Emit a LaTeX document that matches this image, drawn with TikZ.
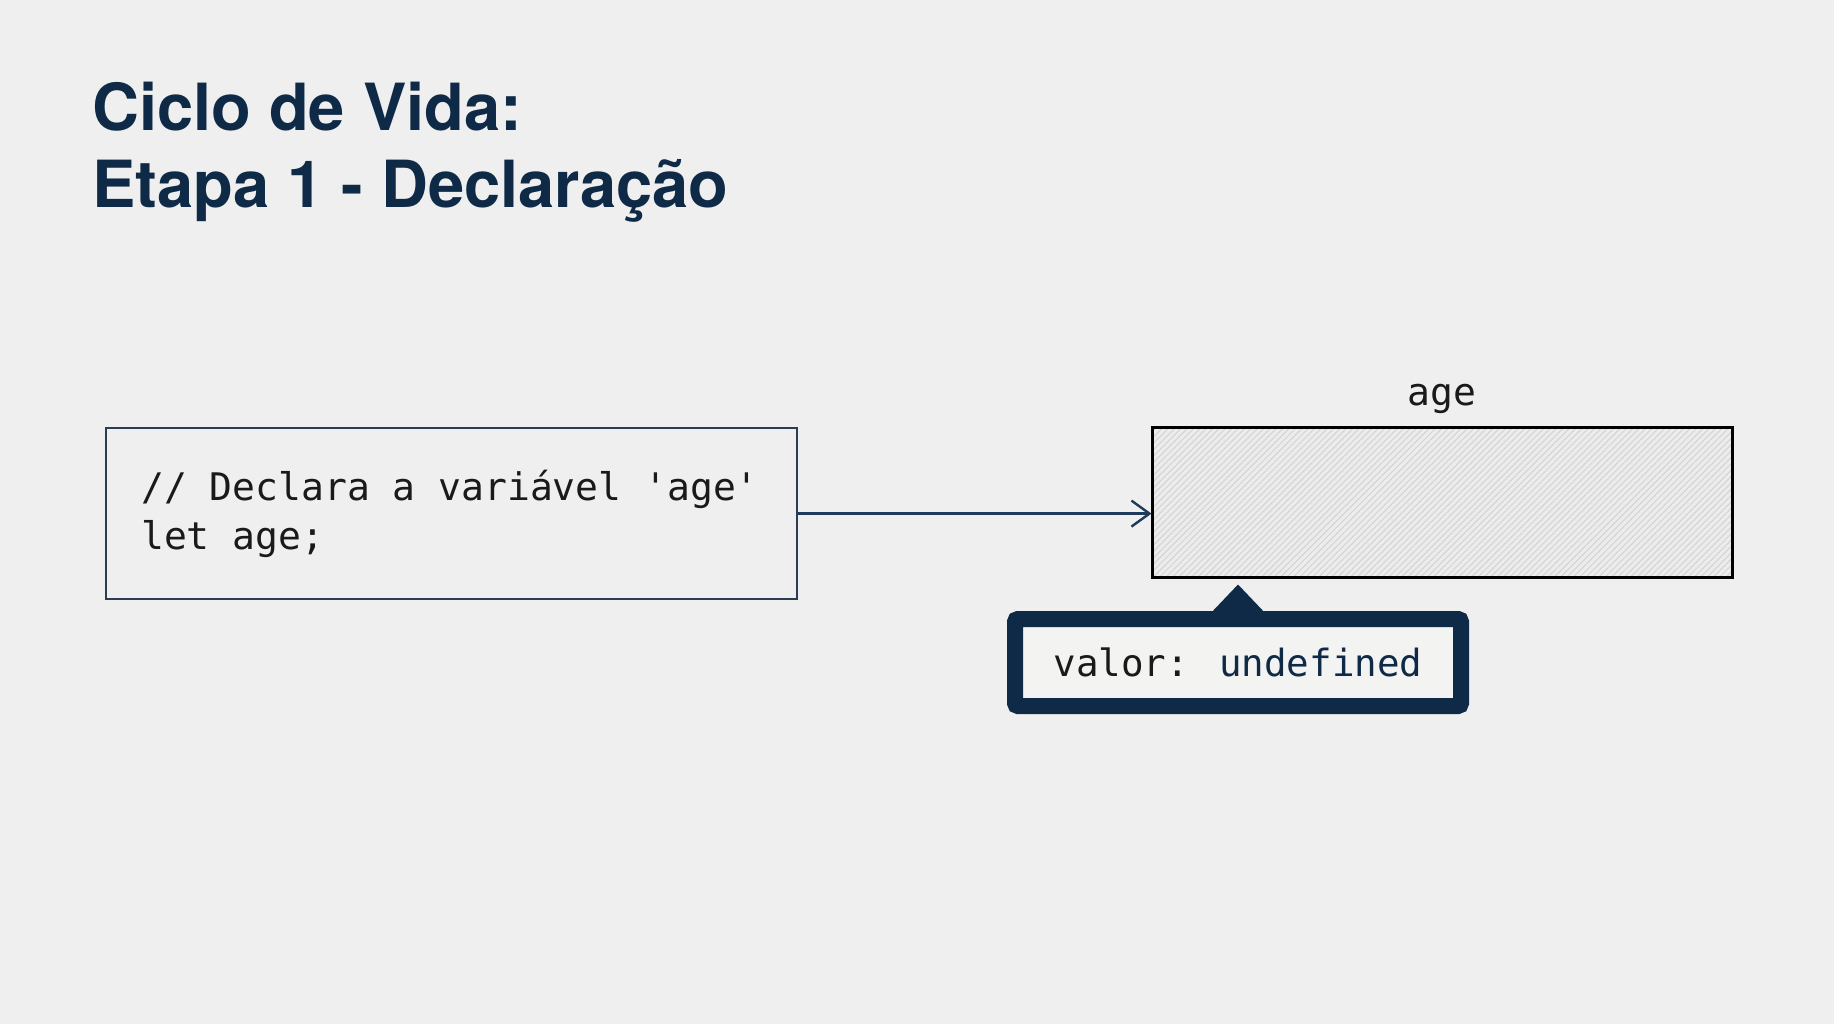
\documentclass[tikz,border=0pt]{standalone}
\usepackage{fontspec}
\setmainfont{TeX Gyre Heros}
\newfontfamily\titlefont{TeX Gyre Heros}
\newfontfamily\codefont{DejaVu Sans Mono}
\usetikzlibrary{arrows.meta,patterns.meta,calc}
\definecolor{bgc}{HTML}{EEEFEE}
\definecolor{navy}{HTML}{0E2A47}
\definecolor{boxline}{HTML}{2B3D55}
\definecolor{arrowc}{HTML}{1F3A5A}
\definecolor{hatchbg}{HTML}{ECECEC}
\definecolor{hatchc}{HTML}{D3D3D3}
\definecolor{tipfill}{HTML}{F3F3F2}
\definecolor{codetext}{HTML}{1A1A1A}
\tikzset{
  titletext/.style={anchor=base west, inner sep=0pt, text=navy, font=\titlefont\bfseries\fontsize{65}{77}\selectfont},
  codetxt/.style={anchor=base west, inner sep=0pt, text=codetext, font=\codefont\fontsize{38}{48}\selectfont},
  codebox/.style={draw=boxline, line width=2.2pt, fill=bgc, anchor=north west, inner sep=0pt},
  varbox/.style={draw=black, line width=3pt, preaction={fill=hatchbg}, pattern={Lines[angle=45,distance=4.5pt,line width=1pt]}, pattern color=hatchc, anchor=north west, inner sep=0pt},
  tipbox/.style={draw=navy, line width=16pt, fill=tipfill, rounded corners=3pt, inner sep=0pt, text=codetext, font=\codefont\fontsize{37.5}{48}\selectfont},
  link/.style={draw=arrowc, line width=2.4pt, -{Straight Barb[length=18pt,width=26pt,line width=2.4pt]}}
}
\begin{document}
\begin{tikzpicture}[x=1pt,y=-1pt]
\useasboundingbox[fill=bgc] (0,0) rectangle (1834,1024);
% title
\node[titletext] (t1) at (92,131) {Ciclo de Vida:};
\node[titletext] (t2) at (92,208) {Etapa 1 - Declaração};
% code box
\node[codebox, minimum width=691pt, minimum height=171pt] (code) at (105,427) {};
\node[codetxt] (c1) at (141,500) {// Declara a variável 'age'};
\node[codetxt] (c2) at (141,549) {let age;};
% variable box
\node[varbox, minimum width=580pt, minimum height=150pt] (var) at (1151.5,427) {};
\node[codetxt, anchor=base] (vname) at (var.north |- 0,405) {age};
% arrow
\draw[link] (code.east) -- (code.east -| var.west);
% tooltip
\node[tipbox, minimum width=446pt, minimum height=87pt] (tip) at (1238,662.5) {valor: \textcolor{navy}{undefined}};
\fill[navy] ($(tip.north)+(-29,4)$) -- ($(tip.north)+(0,-26.5)$) -- ($(tip.north)+(29,4)$) -- cycle;
\end{tikzpicture}
\end{document}
